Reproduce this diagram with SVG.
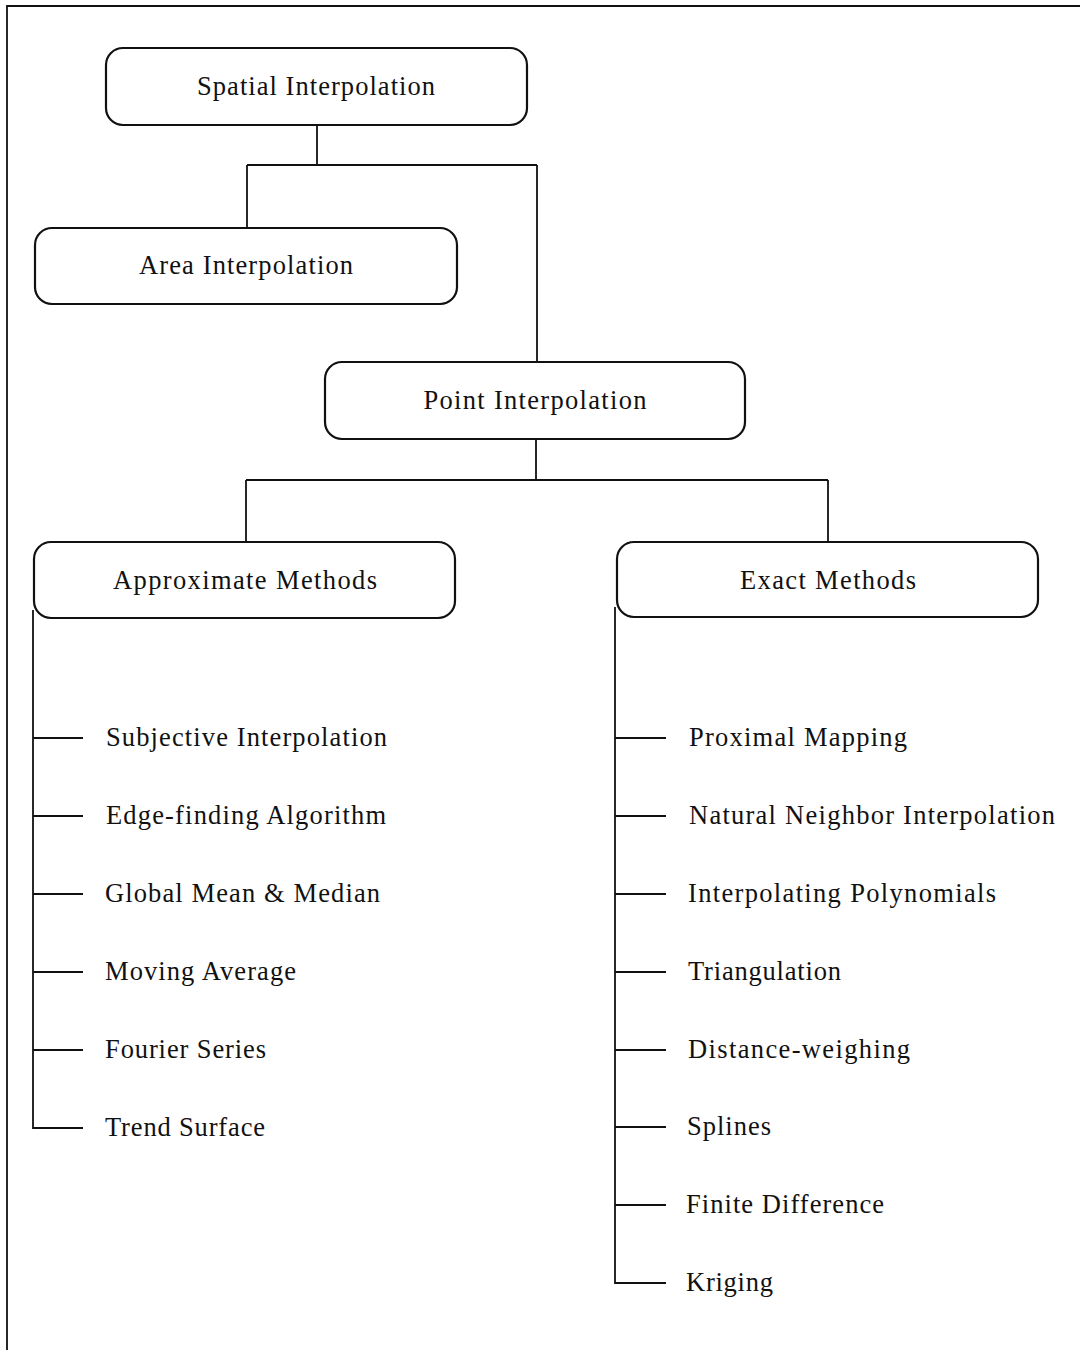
<svg xmlns="http://www.w3.org/2000/svg" width="1080" height="1350" viewBox="0 0 1080 1350">
<style>
.box{fill:#fff;stroke:#111;stroke-width:2.2}
.ln{fill:none;stroke:#111;stroke-width:1.8}
.t{font-family:"Liberation Serif","Times New Roman",serif;font-size:26.5px;fill:#111}
.c{text-anchor:middle}
</style>
<rect width="1080" height="1350" fill="#fff"/>
<path class="ln" d="M1080,6 H7 V1350" stroke-width="2"/>
<g id="connectors">
<path class="ln" d="M317,125 V165 M247,165 H537 M247,165 V228 M537,165 V362"/>
<path class="ln" d="M536,439 V480 M246,480 H828 M246,480 V542 M828,480 V542"/>
<path class="ln" d="M33,610 V1128 H83 M33,738 H83 M33,816 H83 M33,894 H83 M33,972 H83 M33,1050 H83"/>
<path class="ln" d="M615,607 V1283 H666 M615,738 H666 M615,816 H666 M615,894 H666 M615,972 H666 M615,1050 H666 M615,1127 H666 M615,1205 H666"/>
</g>
<g id="spatial"><rect class="box" x="106" y="48" width="421" height="77" rx="17"/><text class="t c" x="316" y="95" textLength="238">Spatial Interpolation</text></g>
<g id="area"><rect class="box" x="35" y="228" width="422" height="76" rx="17"/><text class="t c" x="246" y="274" textLength="214">Area Interpolation</text></g>
<g id="point"><rect class="box" x="325" y="362" width="420" height="77" rx="17"/><text class="t c" x="535" y="409" textLength="223">Point Interpolation</text></g>
<g id="approx"><rect class="box" x="34" y="542" width="421" height="76" rx="17"/><text class="t c" x="245" y="589" textLength="264">Approximate Methods</text></g>
<g id="exact"><rect class="box" x="617" y="542" width="421" height="75" rx="17"/><text class="t c" x="828" y="589" textLength="176">Exact Methods</text></g>
<g id="approx-items">
<text class="t" x="106" y="746" textLength="281">Subjective Interpolation</text>
<text class="t" x="106" y="824" textLength="280">Edge-finding Algorithm</text>
<text class="t" x="105" y="902" textLength="275">Global Mean &amp; Median</text>
<text class="t" x="105" y="980" textLength="191">Moving Average</text>
<text class="t" x="105" y="1058" textLength="161">Fourier Series</text>
<text class="t" x="105" y="1136" textLength="160">Trend Surface</text>
</g>
<g id="exact-items">
<text class="t" x="689" y="746" textLength="218">Proximal Mapping</text>
<text class="t" x="689" y="824" textLength="366">Natural Neighbor Interpolation</text>
<text class="t" x="688" y="902" textLength="308">Interpolating Polynomials</text>
<text class="t" x="688" y="980" textLength="153">Triangulation</text>
<text class="t" x="688" y="1058" textLength="222">Distance-weighing</text>
<text class="t" x="687" y="1135" textLength="84">Splines</text>
<text class="t" x="686" y="1213" textLength="198">Finite Difference</text>
<text class="t" x="686" y="1291" textLength="87">Kriging</text>
</g>
</svg>
